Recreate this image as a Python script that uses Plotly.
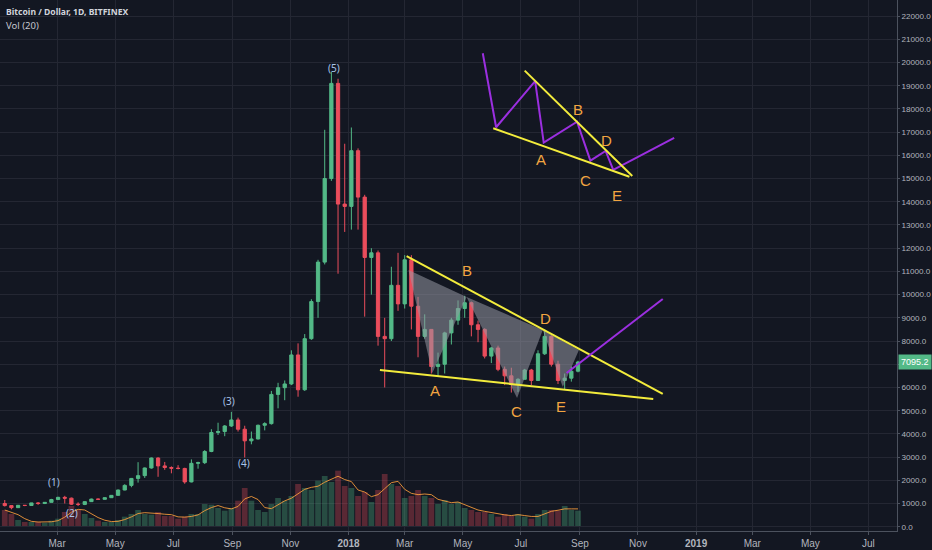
import pandas as pd
import plotly.graph_objects as go

# ---------------- data (weekly approximation of the daily BTC/USD chart) ----------------
week_start = pd.date_range("2017-01-02", periods=87, freq="W-MON")
opens = [1000, 910, 820, 922, 915, 1025, 1000, 1050, 1170, 1265, 1230, 970, 960, 1080, 1190, 1180, 1250,
         1350, 1580, 1780, 2080, 2200, 2530, 2960, 2620, 2550, 2520, 2510, 1930, 2730, 2760, 3240, 4060,
         4100, 4340, 4600, 4200, 3700, 3780, 4370, 4440, 5700, 5990, 6150, 7400, 5900, 8100, 9700, 11400,
         15000, 19100, 13900, 13800, 16200, 14200, 11600, 11800, 8200, 8100, 10400, 9600, 11500, 9500, 8200,
         8500, 6900, 7000, 8350, 8900, 9400, 9650, 8700, 8500, 7350, 7700, 6780, 6500, 6150, 6350, 6750,
         6300, 7450, 8200, 7000, 6300, 6400, 6700]
highs = [1150, 915, 935, 925, 1030, 1065, 1060, 1200, 1290, 1330, 1255, 1050, 1090, 1210, 1210, 1260, 1360,
         1600, 1830, 2100, 2780, 2550, 2980, 2990, 2790, 2600, 2650, 2540, 2900, 2800, 3300, 4200, 4480,
         4380, 4950, 4700, 4350, 4100, 4400, 4500, 5850, 6200, 6300, 7600, 7900, 8300, 9800, 11500, 17100,
         19600, 19300, 16500, 17200, 16300, 14300, 12000, 11900, 9000, 11200, 11800, 11700, 11700, 9900, 9150,
         8500, 7500, 8400, 9000, 9750, 9950, 9700, 8880, 8550, 7750, 7800, 6900, 6850, 6400, 6800, 6800,
         7600, 8500, 8250, 7150, 6600, 6900, 7150]
lows = [870, 750, 815, 885, 910, 940, 975, 1050, 1160, 1000, 940, 890, 930, 1070, 1160, 1175, 1240,
        1340, 1570, 1700, 1900, 2100, 2500, 2150, 2450, 2300, 2470, 1850, 1910, 2500, 2700, 3210, 3950,
        3900, 4300, 4100, 2980, 3550, 3760, 4150, 4400, 5100, 5450, 6100, 5600, 5850, 8050, 9000, 11300,
        14900, 10900, 12700, 12800, 12800, 9050, 10000, 7800, 6000, 8000, 9300, 9400, 8500, 7300, 8100,
        6600, 6450, 6600, 7850, 8700, 9000, 8200, 7950, 7250, 7050, 6700, 6100, 5780, 5800, 6350, 6100,
        6300, 7400, 6900, 6150, 5900, 6250, 6650]
closes = [910, 820, 922, 915, 1025, 1000, 1050, 1170, 1265, 1230, 970, 960, 1080, 1190, 1180, 1250, 1350,
          1580, 1780, 2080, 2200, 2530, 2960, 2620, 2550, 2520, 2510, 1930, 2730, 2760, 3240, 4060, 4100,
          4340, 4600, 4200, 3700, 3780, 4370, 4440, 5700, 5990, 6150, 7400, 5900, 8100, 9700, 11400, 15000,
          19100, 13900, 13800, 16200, 14200, 11600, 11800, 8200, 8100, 10400, 9600, 11500, 9500, 8200, 8500,
          6900, 7000, 8350, 8900, 9400, 9650, 8700, 8500, 7350, 7700, 6780, 6500, 6150, 6350, 6750, 6300,
          7450, 8200, 7000, 6300, 6400, 6700, 7095.2]
volume_k = [24, 18, 9, 6, 6, 6, 5, 8, 11, 21, 30, 24, 18, 12, 8, 6, 6, 9, 14, 18, 24, 18, 17, 21, 15, 15,
            11, 14, 18, 18, 33, 32, 27, 23, 27, 38, 57, 38, 24, 21, 33, 42, 38, 45, 63, 57, 54, 68, 75, 66,
            83, 60, 57, 45, 51, 36, 54, 78, 63, 60, 42, 45, 54, 45, 42, 33, 39, 33, 36, 27, 24, 21, 21, 18,
            14, 18, 15, 18, 14, 11, 18, 24, 24, 23, 30, 24, 23]
last_price = 7095.2

# ---------------- drawings (date, price) ----------------
low_line_x = ["2018-02-03", "2018-11-17"]
low_line_y = [6750, 5500]
up_line_x = ["2018-03-03", "2018-11-27"]
up_line_y = [11660, 5720]
tri_x = [["2018-03-05", "2018-03-30", "2018-05-05", "2018-03-05"],
         ["2018-05-05", "2018-06-27", "2018-07-24", "2018-05-05"],
         ["2018-07-24", "2018-08-14", "2018-08-31", "2018-07-24"]]
tri_y = [[11060, 6620, 9900, 11060],
         [9900, 5545, 8475, 9900],
         [8475, 6020, 7610, 8475]]
break_x = ["2018-08-18", "2018-11-27"]
break_y = [6620, 9810]
lab_x = ["2018-04-02", "2018-05-05", "2018-06-26", "2018-07-27", "2018-08-12"]
lab_y = [5890, 11020, 4985, 8990, 5160]
labels = ["A", "B", "C", "D", "E"]

sk_path_x = ["2018-05-22", "2018-06-05", "2018-07-16", "2018-07-25", "2018-08-29", "2018-09-12",
             "2018-09-28", "2018-10-06", "2018-12-09"]
sk_path_y = [20400, 17210, 19200, 16545, 17450, 15770, 16190, 15370, 16750]
sk_up_x = ["2018-07-05", "2018-10-26"]
sk_up_y = [19650, 15110]
sk_low_x = ["2018-06-02", "2018-10-23"]
sk_low_y = [17165, 15080]
sk_lab_x = ["2018-07-22", "2018-08-30", "2018-09-07", "2018-09-29", "2018-10-10"]
sk_lab_y = [15800, 17990, 14895, 16620, 14290]

wave_x = ["2017-02-26", "2017-03-17", "2017-08-28", "2017-09-13", "2017-12-17"]
wave_y = [1940, 580, 5420, 2760, 19760]
wave_lab = ["(1)", "(2)", "(3)", "(4)", "(5)"]

month_ticks = ["2017-03-01", "2017-05-01", "2017-07-01", "2017-09-01", "2017-11-01", "2018-01-01",
               "2018-03-01", "2018-05-01", "2018-07-01", "2018-09-01", "2018-11-01", "2019-01-01",
               "2019-03-01", "2019-05-01", "2019-07-01"]
month_text = ["Mar", "May", "Jul", "Sep", "Nov", "<b>2018</b>", "Mar", "May", "Jul", "Sep", "Nov",
              "<b>2019</b>", "Mar", "May", "Jul"]
price_ticks = list(range(0, 23000, 1000))
price_text = ["" if v == 7000 else f"{v:.1f}" for v in price_ticks]

# ---------------- styling ----------------
BG = "#131722"
GRID = "#242733"
UP = "#53b987"
DN = "#eb4d5c"
YEL = "#f3ec3c"
PUR = "#9b2fe0"
ORG = "#f2a541"
TXT = "#b2b5be"
FONT = "Noto Sans"

centers = week_start + pd.Timedelta(days=3)
df = pd.DataFrame({"t": centers, "o": opens, "h": highs, "l": lows, "c": closes, "v": volume_k})
df["ma"] = df["v"].rolling(3, min_periods=1).mean()
vcol = ["rgba(83,185,135,0.33)" if c >= o else "rgba(235,77,92,0.33)" for o, c in zip(df.o, df.c)]

fig = go.Figure()
fig.add_trace(go.Bar(x=df.t, y=df.v, yaxis="y2", marker=dict(color=vcol, line=dict(width=0)),
                     width=6 * 86400000, hoverinfo="skip"))
fig.add_trace(go.Scatter(x=df.t, y=df.ma, yaxis="y2", mode="lines",
                         line=dict(color="rgba(255,160,60,0.85)", width=1), hoverinfo="skip"))
for tx, ty in zip(tri_x, tri_y):
    fig.add_trace(go.Scatter(x=tx, y=ty, mode="lines", fill="toself",
                             fillcolor="rgba(150,152,162,0.55)", line=dict(width=0), hoverinfo="skip"))
fig.add_trace(go.Candlestick(x=df.t, open=df.o, high=df.h, low=df.l, close=df.c,
                             increasing=dict(line=dict(color=UP, width=1), fillcolor=UP),
                             decreasing=dict(line=dict(color=DN, width=1), fillcolor=DN),
                             whiskerwidth=0))
for xs, ys, col in [(low_line_x, low_line_y, YEL), (up_line_x, up_line_y, YEL), (break_x, break_y, PUR),
                    (sk_path_x, sk_path_y, PUR), (sk_up_x, sk_up_y, YEL), (sk_low_x, sk_low_y, YEL)]:
    fig.add_trace(go.Scatter(x=xs, y=ys, mode="lines", line=dict(color=col, width=2), hoverinfo="skip"))

ann = []
for x, y, t in zip(lab_x + sk_lab_x, lab_y + sk_lab_y, labels + labels):
    ann.append(dict(x=x, y=y, text=t, showarrow=False, font=dict(family="Liberation Sans", size=15, color=ORG)))
for x, y, t in zip(wave_x, wave_y, wave_lab):
    ann.append(dict(x=x, y=y, text=t, showarrow=False, font=dict(family=FONT, size=10, color="#a9c4e8")))
ann.append(dict(xref="paper", yref="paper", x=0.005, y=1, yshift=-12, xanchor="left", yanchor="middle",
                text="<b>Bitcoin / Dollar, 1D, BITFINEX</b>", showarrow=False,
                font=dict(family=FONT, size=8.6, color="#d1d4dc")))
ann.append(dict(xref="paper", yref="paper", x=0.005, y=1, yshift=-25, xanchor="left", yanchor="middle",
                text="Vol (20)", showarrow=False, font=dict(family=FONT, size=9.5, color="#c3c6ce")))
ann.append(dict(xref="paper", x=1, xanchor="left", xshift=1, y=last_price, yref="y",
                text=f"{last_price:.1f}", showarrow=False, bgcolor=UP, borderpad=2,
                font=dict(family="Liberation Sans", size=9, color="#ffffff")))

fig.update_layout(
    width=932, height=550, margin=dict(l=0, r=35, t=0, b=19, autoexpand=False),
    paper_bgcolor=BG, plot_bgcolor=BG, showlegend=False,
    font=dict(family=FONT, size=10, color=TXT),
    xaxis=dict(range=["2016-12-31", "2019-07-31"], tickvals=month_ticks, ticktext=month_text,
               showgrid=True, gridcolor=GRID, gridwidth=1, zeroline=False, rangeslider=dict(visible=False),
               showline=True, linecolor="#4c525e", ticks="outside", ticklen=3, tickcolor="#4c525e",
               tickfont=dict(family="Liberation Sans", size=10, color=TXT), automargin=False),
    yaxis=dict(range=[-185, 22693], side="right", tickvals=price_ticks, ticktext=price_text,
               showgrid=True, gridcolor=GRID, zeroline=False, showline=True, linecolor="#4c525e",
               ticks="outside", ticklen=2, tickcolor="#4c525e",
               tickfont=dict(family="Liberation Sans", size=8.1, color=TXT), automargin=False),
    yaxis2=dict(overlaying="y", range=[-7.5, 789], visible=False),
    annotations=ann,
)

fig.write_html("out.html", config={"displayModeBar": False},
               post_script="document.body.style.margin='0';document.body.style.overflow='hidden';")
